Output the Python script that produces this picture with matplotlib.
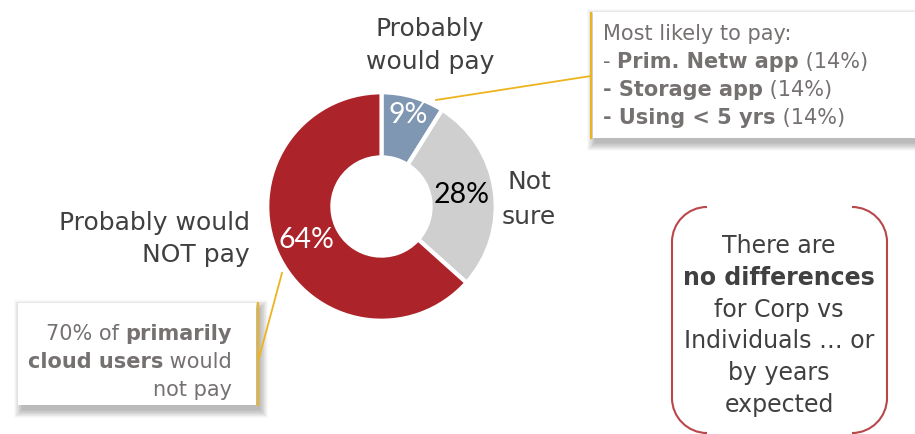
import matplotlib
matplotlib.use("Agg")
import matplotlib.pyplot as plt
from matplotlib.patches import Rectangle, PathPatch
from matplotlib.path import Path
import numpy as np

# ---- data ----
categories = ["Probably would pay", "Not sure", "Probably would NOT pay"]
shares = [9, 28, 64]
slice_colors = ["#7F97B2", "#D0CFD0", "#AC2429"]
pct_colors = ["white", "black", "white"]

likely_header = "Most likely to pay:"
likely_items = [("Prim. Netw app", 14), ("Storage app", 14), ("Using < 5 yrs", 14)]

cloud_share = 70
note_lines = ["There are", "no differences", "for Corp vs",
              "Individuals \u2026 or", "by years", "expected"]

W, H = 915, 434
fig = plt.figure(figsize=(W / 100, H / 100), dpi=100)
fig.patch.set_facecolor("white")

# ---- donut ----
cx, cy, R = 381.5, 206.5, 116.5
axp = fig.add_axes([(cx - R) / W, (H - cy - R) / H, 2 * R / W, 2 * R / H])
wedges, _ = axp.pie(shares, colors=slice_colors, startangle=90, counterclock=False,
                    radius=1, wedgeprops=dict(width=0.57, edgecolor="white", linewidth=3))
axp.set_xlim(-1.02, 1.02)
axp.set_ylim(-1.02, 1.02)
axp.set_aspect("auto")
axp.axis("off")

# percentage labels on the ring
label_r = [0.83, 0.71, 0.72]
total = sum(shares)
ang = 90.0
for v, c, r in zip(shares, pct_colors, label_r):
    span = 360.0 * v / total
    mid = np.deg2rad(ang - span / 2)
    axp.text(r * np.cos(mid), r * np.sin(mid), f"{v}%", ha="center", va="center",
             color=c, fontsize=20.5, family="Lato")
    ang -= span

# ---- overlay in pixel coordinates ----
ax = fig.add_axes([0, 0, 1, 1], zorder=5)
ax.set_xlim(0, W)
ax.set_ylim(H, 0)
ax.axis("off")
ax.patch.set_alpha(0)

dark = "#404040"
boxgrey = "#767171"
gold = "#EDB41E"
fam = "DejaVu Sans"


def shadowed_box(x0, y0, w, h, dx, dy):
    # soft drop shadow built from stacked translucent rectangles
    for i in range(12):
        g = i * 0.7
        ax.add_patch(Rectangle((x0 + dx - g, y0 + dy - g), w + 2 * g, h + 2 * g,
                               facecolor="black", edgecolor="none", alpha=0.022, zorder=1))
    ax.add_patch(Rectangle((x0, y0), w, h, facecolor="white", edgecolor="none", zorder=2))


def rich_left(x, y, parts, size, color):
    t = None
    for s, wgt in parts:
        if t is None:
            t = ax.text(x, y, s, ha="left", va="baseline", fontsize=size,
                        fontweight=wgt, color=color, family=fam, zorder=4)
        else:
            t = ax.annotate(s, xy=(1, 0), xycoords=t, ha="left", va="bottom",
                            fontsize=size, fontweight=wgt, color=color, family=fam, zorder=4)


def rich_right(x, y, parts, size, color):
    t = None
    for s, wgt in reversed(parts):
        if t is None:
            t = ax.text(x, y, s, ha="right", va="baseline", fontsize=size,
                        fontweight=wgt, color=color, family=fam, zorder=4)
        else:
            t = ax.annotate(s, xy=(0, 0), xycoords=t, ha="right", va="bottom",
                            fontsize=size, fontweight=wgt, color=color, family=fam, zorder=4)


# category labels
ax.text(430, 36, "Probably", ha="center", va="baseline", fontsize=18, color=dark, family=fam)
ax.text(430, 69, "would pay", ha="center", va="baseline", fontsize=18, color=dark, family=fam)
ax.text(529, 189, "Not", ha="center", va="baseline", fontsize=18, color=dark, family=fam)
ax.text(529, 224, "sure", ha="center", va="baseline", fontsize=18, color=dark, family=fam)
ax.text(250, 230, "Probably would", ha="right", va="baseline", fontsize=18, color=dark, family=fam)
ax.text(250, 262, "NOT pay", ha="right", va="baseline", fontsize=18, color=dark, family=fam)

# top-right callout
shadowed_box(593, 12, 330, 126, 2, 5)
ax.plot([591, 591], [13, 138], color=gold, lw=1.5, zorder=3)
ax.plot([436, 591], [100, 76], color=gold, lw=1.3, zorder=3)
tx, ty, dy = 603, 40, 28
rich_left(tx, ty, [(likely_header, "normal")], 15, boxgrey)
for i, (name, pct) in enumerate(likely_items):
    if i == 0:
        parts = [("- ", "normal"), (name, "bold"), (f" ({pct}%)", "normal")]
    else:
        parts = [("- " + name, "bold"), (f" ({pct}%)", "normal")]
    rich_left(tx, ty + dy * (i + 1), parts, 15, boxgrey)

# bottom-left callout
shadowed_box(18, 303, 238, 102, 4, 5)
ax.plot([258, 258], [303, 405], color=gold, lw=1.5, zorder=3)
ax.plot([282, 259], [273, 358], color=gold, lw=1.3, zorder=3)
rich_right(232, 340, [(f"{cloud_share}% of ", "normal"), ("primarily", "bold")], 15, boxgrey)
rich_right(232, 368, [("cloud users", "bold"), (" would", "normal")], 15, boxgrey)
rich_right(232, 396, [("not pay", "normal")], 15, boxgrey)

# right note with bracket-style rounded border
x0, x1, y0, y1, rr = 672, 887, 207, 433, 35
k = 0.5523
left = Path([(x0 + rr, y0), (x0 + rr * (1 - k), y0), (x0, y0 + rr * (1 - k)), (x0, y0 + rr),
             (x0, y1 - rr),
             (x0, y1 - rr * (1 - k)), (x0 + rr * (1 - k), y1), (x0 + rr, y1)],
            [Path.MOVETO, Path.CURVE4, Path.CURVE4, Path.CURVE4, Path.LINETO,
             Path.CURVE4, Path.CURVE4, Path.CURVE4])
right = Path([(x1 - rr, y0), (x1 - rr * (1 - k), y0), (x1, y0 + rr * (1 - k)), (x1, y0 + rr),
              (x1, y1 - rr),
              (x1, y1 - rr * (1 - k)), (x1 - rr * (1 - k), y1), (x1 - rr, y1)],
             [Path.MOVETO, Path.CURVE4, Path.CURVE4, Path.CURVE4, Path.LINETO,
              Path.CURVE4, Path.CURVE4, Path.CURVE4])
for p in (left, right):
    ax.add_patch(PathPatch(p, facecolor="none", edgecolor="#B9474A", lw=1.5, zorder=3))

for i, line in enumerate(note_lines):
    ax.text(779, 253 + 31.8 * i, line, ha="center", va="baseline", fontsize=17,
            fontweight="bold" if i == 1 else "normal", color=dark, family=fam)

fig.savefig("out.png", dpi=100, facecolor="white")
